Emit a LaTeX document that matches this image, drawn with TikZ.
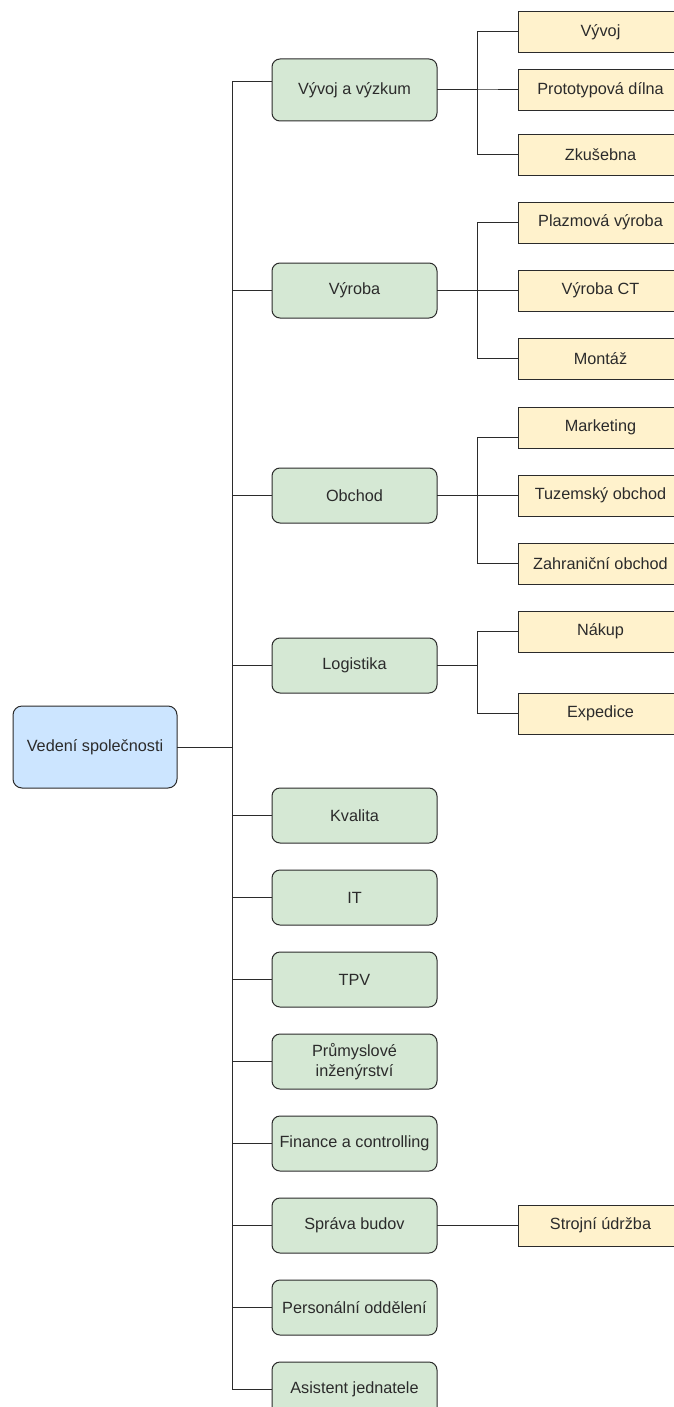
\documentclass[tikz,border=0pt]{standalone}
\usepackage{fontspec}
\setmainfont{Liberation Sans}
\usetikzlibrary{positioning}

\definecolor{headblue}{HTML}{CCE5FF}
\definecolor{deptgreen}{HTML}{D5E8D4}
\definecolor{unityellow}{HTML}{FFF2CC}
\definecolor{linegray}{HTML}{2B2B2B}

\begin{document}
\begin{tikzpicture}[
        x=1pt, y=-1pt,
        node distance=27pt and 81pt,
        color=linegray,
        every node/.style={draw=linegray, line width=1pt, outer sep=0pt, inner sep=2pt, align=center,
            font=\fontsize{16.25}{19.5}\selectfont},
        every path/.style={line width=1pt},
        head/.style={fill=headblue, rounded corners=9pt, minimum width=164pt, minimum height=82pt},
        dept/.style={fill=deptgreen, rounded corners=8pt, minimum width=165pt, minimum height=55pt},
        unit/.style={fill=unityellow, minimum width=165pt, minimum height=41pt}
    ]

    \useasboundingbox (0,0) rectangle (674,1407);

    % Nodes
    \node[head] (head) at (95,747) {Vedení společnosti};

    \node[dept, minimum height=62pt] (vav) at (354.5,90) {Vývoj a výzkum};
    \node[dept, below=142pt of vav] (vyroba) {Výroba};
    \node[dept, below=150pt of vyroba] (obchod) {Obchod};
    \node[dept, below=115pt of obchod] (logistika) {Logistika};
    \node[dept, below=95pt of logistika] (kvalita) {Kvalita};
    \node[dept, below=of kvalita] (it) {IT};
    \node[dept, below=of it] (tpv) {TPV};
    \node[dept, below=of tpv] (prumysl) {Průmyslové\\inženýrství};
    \node[dept, below=of prumysl] (finance) {Finance a controlling};
    \node[dept, below=of finance] (sprava) {Správa budov};
    \node[dept, below=of sprava] (personal) {Personální oddělení};
    \node[dept, below=of personal] (asistent) {Asistent jednatele};

    \node[unit, right=of vav] (proto) {Prototypová dílna};
    \node[unit, above=17pt of proto] (vyvoj) {Vývoj};
    \node[unit, below=24pt of proto] (zkus) {Zkušebna};

    \node[unit, right=of vyroba] (vyrct) {Výroba CT};
    \node[unit, above=of vyrct] (plazma) {Plazmová výroba};
    \node[unit, below=of vyrct] (montaz) {Montáž};

    \node[unit, right=of obchod] (tuzem) {Tuzemský obchod};
    \node[unit, above=of tuzem] (marketing) {Marketing};
    \node[unit, below=of tuzem] (zahran) {Zahraniční obchod};

    \node[unit, right=of logistika, yshift=34pt] (nakup) {Nákup};
    \node[unit, below=41pt of nakup] (exped) {Expedice};

    \node[unit, right=of sprava] (udrzba) {Strojní údržba};

    % Edges
    \draw (head.east) -- ++(55,0) |- ([yshift=8pt]vav.west);
    \foreach \dept in {vyroba,obchod,logistika,kvalita,it,tpv,prumysl,finance,sprava,personal,asistent}
        \draw (head.east) -- ++(55,0) |- (\dept.west);

    \foreach \unit in {vyvoj,proto,zkus}
        \draw (vav.east) -- ++(40,0) |- (\unit.west);
    \foreach \unit in {plazma,vyrct,montaz}
        \draw (vyroba.east) -- ++(40,0) |- (\unit.west);
    \draw (obchod.east) -- ++(40,0) |- ([yshift=-9.5pt]marketing.west);
    \foreach \unit in {tuzem,zahran}
        \draw (obchod.east) -- ++(40,0) |- (\unit.west);
    \foreach \unit in {nakup,exped}
        \draw (logistika.east) -- ++(40,0) |- (\unit.west);
    \draw (sprava.east) -- (udrzba.west);

\end{tikzpicture}
\end{document}
